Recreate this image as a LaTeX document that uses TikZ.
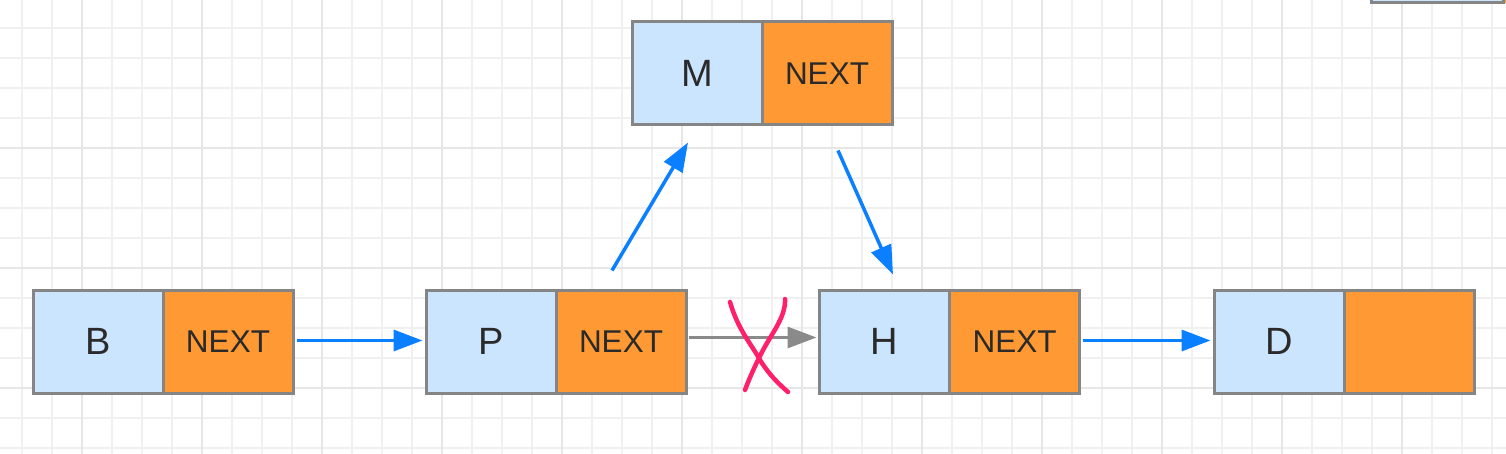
\documentclass[tikz,border=0pt]{standalone}
\usepackage{fontspec}
\setmainfont{Liberation Sans}
\usetikzlibrary{arrows.meta}
\definecolor{cellblue}{HTML}{CCE5FF}
\definecolor{cellorange}{HTML}{FF9933}
\definecolor{cellborder}{HTML}{858585}
\definecolor{txt}{HTML}{2A2A2A}
\definecolor{arrblue}{HTML}{0A7FFF}
\definecolor{arrgray}{HTML}{8A8A8A}
\definecolor{xred}{HTML}{FF1F6A}
\definecolor{gridminor}{HTML}{F0F0F0}
\definecolor{gridmajor}{HTML}{E6E6E6}
\tikzset{
  cell/.style={draw=cellborder, line width=3pt, minimum width=130pt, minimum height=103pt, inner sep=0pt, text=txt},
  valcell/.style={cell, fill=cellblue, font=\fontsize{38}{40}\selectfont},
  nextcell/.style={cell, fill=cellorange, font=\fontsize{31.5}{34}\selectfont},
  link/.style={draw=arrblue, line width=3.5pt, -{Triangle[length=29pt,width=21pt]}},
  oldlink/.style={draw=arrgray, line width=3pt, -{Triangle[length=29pt,width=21pt]}},
  cross/.style={draw=xred, line width=4.5pt, line cap=round}
}
\begin{document}
\begin{tikzpicture}[x=1pt,y=-1pt]
\useasboundingbox (0,0) rectangle (1506,454);
\fill[white] (0,0) rectangle (1506,454);
% grid
\foreach \i in {0,...,49} {
  \pgfmathsetmacro{\gx}{22+30*\i}
  \draw[gridminor, line width=1.5pt] (\gx,0) -- (\gx,454);
}
\foreach \j in {0,...,14} {
  \pgfmathsetmacro{\gy}{28+30*\j}
  \draw[gridminor, line width=1.5pt] (0,\gy) -- (1506,\gy);
}
\foreach \i in {0,...,12} {
  \pgfmathsetmacro{\gx}{82+120*\i}
  \draw[gridmajor, line width=1.5pt] (\gx,0) -- (\gx,454);
}
\foreach \gy in {148,268,388} {
  \draw[gridmajor, line width=1.5pt] (0,\gy) -- (1506,\gy);
}
% fragment at top right
\fill[cellorange] (1500,-10) rectangle (1510,3);
\draw[cellborder, line width=3pt, fill=cellblue] (1371,-10) rectangle (1503,3);
% cells
\node[valcell]  (Bv) at (98,341.5) {B};
\node[nextcell] (Bn) at (228,341.5) {NEXT};
\node[valcell]  (Pv) at (491,341.5) {P};
\node[nextcell] (Pn) at (621,341.5) {NEXT};
\node[valcell]  (Hv) at (884,341.5) {H};
\node[nextcell] (Hn) at (1014.5,341.5) {NEXT};
\node[valcell]  (Dv) at (1279,341.5) {D};
\node[nextcell] (Dn) at (1409.5,341.5) {};
\node[valcell]  (Mv) at (697,73.5) {M};
\node[nextcell] (Mn) at (827,73.5) {NEXT};
% connector end points
\coordinate (PnTop) at ([xshift=-9pt,yshift=18pt]Pn.north);
\coordinate (MvBot) at ([xshift=-9pt,yshift=-16pt]Mv.south);
\coordinate (MnBot) at ([xshift=11pt,yshift=-24pt]Mn.south);
\coordinate (HvTop) at ([xshift=9pt,yshift=14pt]Hv.north);
% links
\draw[link] ([xshift=2pt,yshift=1pt]Bn.east) -- ([xshift=-2pt,yshift=1pt]Pv.west);
\draw[link] ([xshift=2pt,yshift=1pt]Hn.east) -- ([xshift=-2pt,yshift=1pt]Dv.west);
\draw[link] (PnTop) -- (MvBot);
\draw[link] (MnBot) -- (HvTop);
\draw[oldlink] ([xshift=1pt,yshift=4pt]Pn.east) -- ([xshift=-1pt,yshift=4pt]Hv.west);
% cross
\draw[cross] (730,302) .. controls (738,330) and (752,345) .. (760,360) .. controls (770,376) and (780,385) .. (788,392);
\draw[cross] (785,299) .. controls (786,318) and (770,335) .. (760,356) .. controls (752,372) and (748,382) .. (745,390);
\end{tikzpicture}
\end{document}
